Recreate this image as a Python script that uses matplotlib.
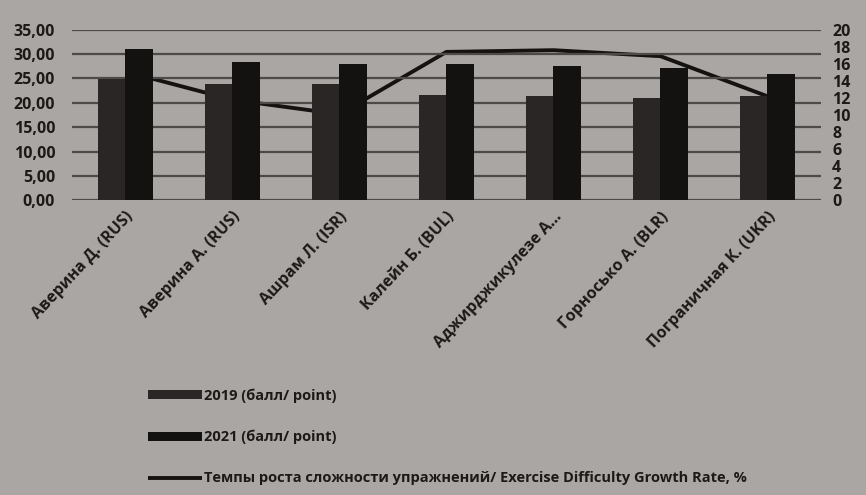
import numpy as np
import matplotlib
matplotlib.use("Agg")
import matplotlib.pyplot as plt

plt.rcParams['font.family'] = ['Open Sans', 'DejaVu Sans']

# gymnasts and their scores
athletes = ['Аверина Д. (RUS)', 'Аверина А. (RUS)', 'Ашрам Л. (ISR)', 'Калейн Б. (BUL)',
            'Аджирджикулезе А...', 'Горносько А. (BLR)', 'Пограничная К. (UKR)']
score_2019 = [24.9, 23.8, 23.8, 21.7, 21.4, 20.9, 21.4]
score_2021 = [31.0, 28.3, 28.0, 28.0, 27.5, 27.2, 25.9]
growth_rate = [15.1, 11.8, 10.1, 17.4, 17.6, 16.9, 12.2]

left_ticks = [0, 5, 10, 15, 20, 25, 30, 35]
right_ticks = [0, 2, 4, 6, 8, 10, 12, 14, 16, 18, 20]

paper = '#aaa6a3'
ink = '#1c1918'

fig = plt.figure(figsize=(8.66, 4.95), dpi=100, facecolor=paper)
ax = fig.add_axes([0.083, 0.595, 0.865, 0.345])

x = np.arange(len(athletes))
w = 0.26
b1 = ax.bar(x - w / 2, score_2019, w, color='#2a2625', label='2019 (балл/ point)', zorder=2)
b2 = ax.bar(x + w / 2, score_2021, w, color='#141211', label='2021 (балл/ point)', zorder=2)

ax.set_ylim(0, 35)
ax.set_xlim(-0.5, len(athletes) - 0.5)
ax.set_yticks(left_ticks)
ax.set_yticklabels([f'{t:.2f}'.replace('.', ',') for t in left_ticks])
ax.yaxis.grid(True, color='#4e4a48', linewidth=1.6, zorder=0)
ax.set_axisbelow(True)
ax.set_xticks(x)
ax.set_xticklabels(athletes, rotation=47, ha='right', rotation_mode='anchor')
ax.tick_params(axis='both', length=0, labelsize=11.5, labelcolor=ink)
ax.tick_params(axis='x', pad=6)
ax.tick_params(axis='y', pad=12)
for s in ax.spines.values():
    s.set_visible(False)

# growth rate on the secondary axis, kept behind the bars
ax2 = ax.twinx()
ln, = ax2.plot(x, growth_rate, color='#151312', linewidth=2.8, solid_capstyle='butt',
               label='Темпы роста сложности упражнений/ Exercise Difficulty Growth Rate, %')
ax2.set_ylim(0, 20)
ax2.set_yticks(right_ticks)
ax2.tick_params(axis='y', length=0, labelsize=11.5, labelcolor=ink, pad=8)
for s in ax2.spines.values():
    s.set_visible(False)
ax2.set_facecolor(paper)
ax.set_zorder(ax2.get_zorder() + 1)
ax.patch.set_visible(False)

for lbl in ax.get_xticklabels() + ax.get_yticklabels() + ax2.get_yticklabels():
    lbl.set_fontweight('bold')

leg = fig.legend(handles=[b1, b2, ln], loc='upper left', bbox_to_anchor=(0.171, 0.215),
                 frameon=False, fontsize=10.5, labelspacing=1.85, handlelength=3.7,
                 handleheight=0.55, handletextpad=0.1, borderaxespad=0, borderpad=0)
for t in leg.get_texts():
    t.set_color(ink)
    t.set_fontweight('bold')

fig.savefig('out.png', dpi=100, facecolor=paper)
